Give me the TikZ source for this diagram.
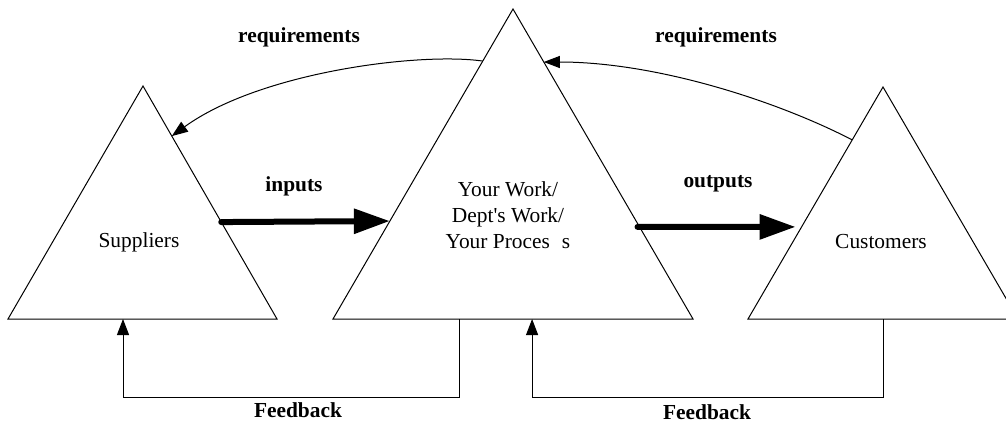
\documentclass[tikz,border=0pt]{standalone}
\usepackage{fontspec}
\setmainfont{Liberation Serif}
\usetikzlibrary{arrows.meta,calc}

\tikzstyle{tri} = [line width=0.5pt, line join=miter]
\tikzstyle{flow} = [line width=3pt, line cap=round, -{Triangle[length=18pt,width=12pt]}]
\tikzstyle{thinarrow} = [line width=0.5pt, -{Triangle[length=8pt,width=6pt]}]
\tikzstyle{tag} = [font=\bfseries\fontsize{10.7}{12}\selectfont]
\tikzstyle{unittext} = [font=\fontsize{10.7}{13}\selectfont]

\begin{document}
\begin{tikzpicture}[x=0.5pt, y=-0.5pt]
	\useasboundingbox (0,0) rectangle (1006,422);
	\clip (0,0) rectangle (1006,422);

	% the three triangles
	\coordinate (sup top) at (143,86);
	\coordinate (sup bl) at (8,319);
	\coordinate (sup br) at (277,319);
	\coordinate (work top) at (513,9);
	\coordinate (work bl) at (333,319);
	\coordinate (work br) at (693,319);
	\coordinate (cus top) at (883,87);
	\coordinate (cus bl) at (748,319);
	\coordinate (cus br) at (1018,319);

	\draw[tri] (sup top) -- (sup bl) -- (sup br) -- cycle;
	\draw[tri] (work top) -- (work bl) -- (work br) -- cycle;
	\draw[tri] (cus top) -- (cus bl) -- (cus br) -- cycle;

	\node[unittext] (suppliers) at (139,242) {Suppliers};
	\node[unittext, align=center] (work) at (508,215) {Your Work/\\Dept\textquotesingle s Work/\\Your Proces\hspace{0.56em}s};
	\node[unittext] (customers) at (881,242) {Customers};

	% inputs and outputs
	\coordinate (in a) at ($(sup top)!0.584!(sup br)$);
	\coordinate (in b) at ($(work top)!0.684!(work bl)$);
	\coordinate (out a) at ($(work top)!0.703!(work br)$);
	\coordinate (out b) at ($(cus top)!0.603!(cus bl)$);
	\draw[flow] (in a) -- (in b);
	\draw[flow] ($(out a)+(-2,0)$) -- ($(out b)+(-6,0)$);
	\node[tag] (inputs) at (294,186) {inputs};
	\node[tag] (outputs) at (718,184) {outputs};

	% requirements go back upstream
	\coordinate (req1 a) at ($(work top)!0.168!(work bl)$);
	\coordinate (req1 b) at ($(sup top)!0.215!(sup br)$);
	\coordinate (req2 a) at ($(cus top)!0.228!(cus bl)$);
	\coordinate (req2 b) at ($(work top)!0.171!(work br)$);
	\draw[thinarrow] (req1 a) .. controls (420,52) and (260,72) .. (req1 b);
	\draw[thinarrow] (req2 a) .. controls (775,100) and (655,62) .. (req2 b);
	\node[tag] (req left) at (299,37) {requirements};
	\node[tag] (req right) at (716,37) {requirements};

	% feedback loops under the bases
	\coordinate (fb1 a) at ($(work bl)!0.35!(work br)$);
	\coordinate (fb1 b) at ($(sup bl)!0.4275!(sup br)$);
	\coordinate (fb2 a) at ($(cus bl)!0.5!(cus br)$);
	\coordinate (fb2 b) at ($(work bl)!0.553!(work br)$);
	\draw[thinarrow] (fb1 a) -- ++(0,78) -| (fb1 b);
	\draw[thinarrow] (fb2 a) -- ++(0,78) -| (fb2 b);
	\node[tag] (fb left) at (298,410) {Feedback};
	\node[tag] (fb right) at (707,412) {Feedback};
\end{tikzpicture}
\end{document}
